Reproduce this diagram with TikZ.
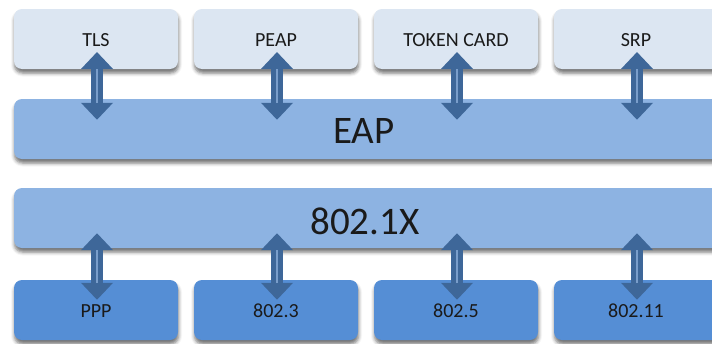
\documentclass[tikz,border=0pt]{standalone}
\usepackage{fontspec}
\setmainfont{Carlito}
\usetikzlibrary{arrows.meta,shadows.blur,calc}
\definecolor{topfill}{HTML}{DCE6F2}
\definecolor{barfill}{HTML}{8DB3E2}
\definecolor{botfill}{HTML}{558ED5}
\definecolor{arrowc}{HTML}{3E6799}
\definecolor{arrowhl}{HTML}{7A9ECB}
\definecolor{txt}{HTML}{1A1A1A}
\begin{document}
\begin{tikzpicture}[x=1pt,y=-1pt,
  box/.style={rounded corners=8pt, minimum height=60pt, inner sep=0pt, text=txt,
    blur shadow={shadow xshift=0.5pt, shadow yshift=-4pt, shadow blur radius=3.5pt, shadow opacity=55}},
  topbox/.style={box, fill=topfill, minimum width=164pt, font=\fontsize{20}{20}\selectfont},
  botbox/.style={box, fill=botfill, minimum width=164pt, font=\fontsize{20}{20}\selectfont},
  bar/.style={box, fill=barfill, minimum width=716pt, font=\fontsize{39}{39}\selectfont},
  dblarrow/.style={line width=12pt, draw=arrowc,
    {Triangle[width=31pt,length=17pt]}-{Triangle[width=31pt,length=17pt]}},
  arrowline/.style={line width=1.5pt, draw=arrowhl, shorten <=17pt, shorten >=17pt}
]
\useasboundingbox (0,0) rectangle (712,343);
\clip (0,0) rectangle (712,343);
% top row
\node[topbox] (tls)   at (96,39)  {};
\node[topbox] (peap)  at (276,39) {};
\node[topbox] (token) at (456,39) {};
\node[topbox, minimum width=180pt] (srp) at (644,39) {};
% bars
\node[bar] (eap)  at (372,129) {};
\node[bar] (dotx) at (372,218) {};
% bottom row
\node[botbox] (ppp)  at (96,310)  {};
\node[botbox] (e3)   at (276,310) {};
\node[botbox] (e5)   at (456,310) {};
\node[botbox, minimum width=180pt] (e11) at (644,310) {};
% labels
\node[text=txt, font=\fontsize{20}{20}\selectfont] (ltls) at (96,40) {TLS};
\node[text=txt, font=\fontsize{20}{20}\selectfont] (lpeap) at (276,40) {PEAP};
\node[text=txt, font=\fontsize{20}{20}\selectfont] (ltoken) at (456,40) {TOKEN CARD};
\node[text=txt, font=\fontsize{20}{20}\selectfont] (lsrp) at (636,40) {SRP};
\node[text=txt, font=\fontsize{39}{39}\selectfont] (leap) at (364,131) {EAP};
\node[text=txt, font=\fontsize{39}{39}\selectfont] (ldotx) at (365,221) {802.1X};
\node[text=txt, font=\fontsize{20}{20}\selectfont] (lppp) at (96,311) {PPP};
\node[text=txt, font=\fontsize{20}{20}\selectfont] (le3) at (276,311) {802.3};
\node[text=txt, font=\fontsize{20}{20}\selectfont] (le5) at (456,311) {802.5};
\node[text=txt, font=\fontsize{20}{20}\selectfont] (le11) at (636,311) {802.11};
% upper arrows
\foreach \n/\x in {tls/97,peap/277,token/457,srp/637}{
  \coordinate (a\n) at (\x,52);
  \coordinate (b\n) at ($(a\n |- eap.north)+(0,21)$);
  \draw[dblarrow] (a\n) -- (b\n);
  \draw[arrowline] (a\n) -- (b\n);
}
% lower arrows
\foreach \n/\x in {ppp/97,e3/277,e5/457,e11/637}{
  \coordinate (c\n) at ($(\x,0 |- dotx.south)+(0,-15)$);
  \coordinate (d\n) at ($(c\n |- \n.north)+(0,20)$);
  \draw[dblarrow] (c\n) -- (d\n);
  \draw[arrowline] (c\n) -- (d\n);
}
\end{tikzpicture}
\end{document}
